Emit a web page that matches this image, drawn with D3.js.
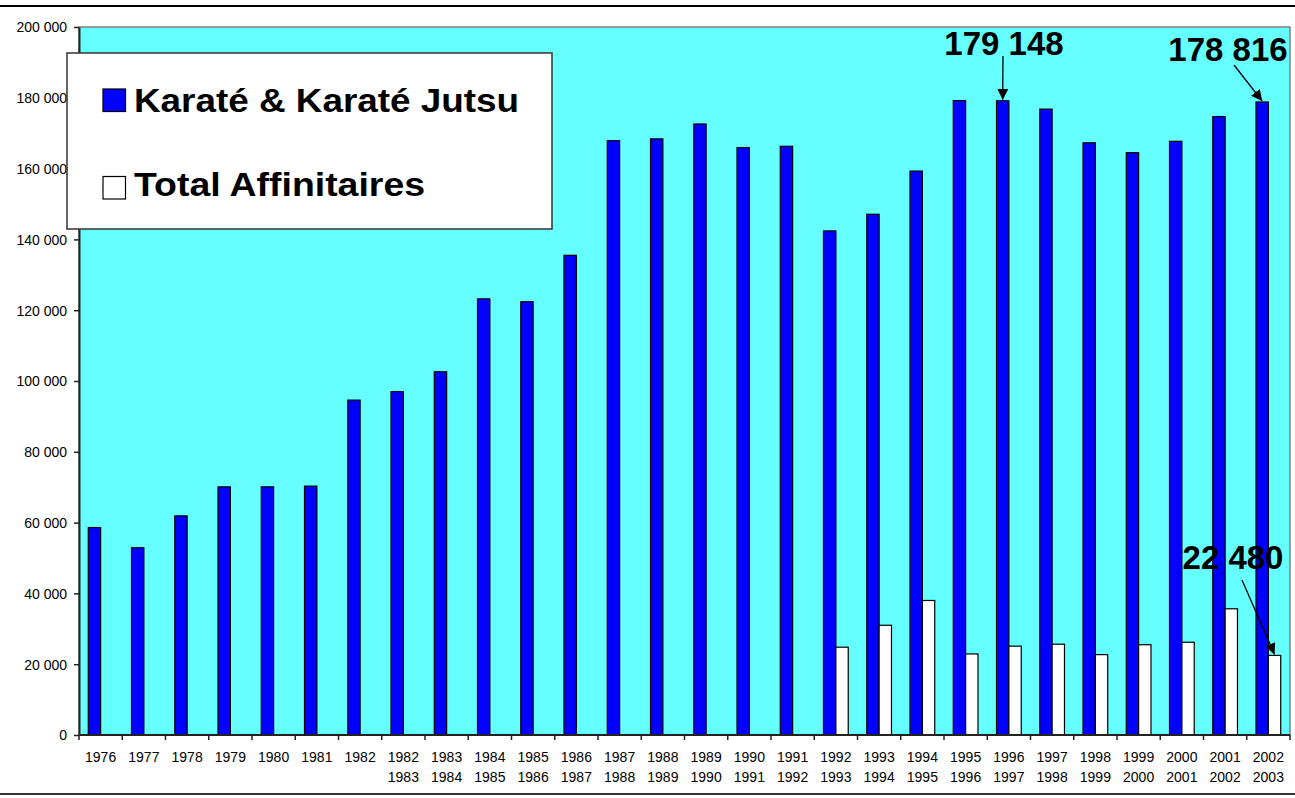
<!DOCTYPE html>
<html>
<head>
<meta charset="utf-8">
<script src="https://cdn.jsdelivr.net/npm/d3@7"></script>
<style>
    body { margin: 0; background: #ffffff; }
    svg { display: block; font-family: Arial, "Liberation Sans", sans-serif; }
</style>
</head>
<body>
<div id="byYear"><svg></svg></div>
<script>
/** Data **/
var seasonLines = [
    ["1976"], ["1977"], ["1978"], ["1979"], ["1980"], ["1981"], ["1982"],
    ["1982", "1983"], ["1983", "1984"], ["1984", "1985"], ["1985", "1986"],
    ["1986", "1987"], ["1987", "1988"], ["1988", "1989"], ["1989", "1990"],
    ["1990", "1991"], ["1991", "1992"], ["1992", "1993"], ["1993", "1994"],
    ["1994", "1995"], ["1995", "1996"], ["1996", "1997"], ["1997", "1998"],
    ["1998", "1999"], ["1999", "2000"], ["2000", "2001"], ["2001", "2002"],
    ["2002", "2003"]
];

var karateValues = [
    58600, 52900, 61900, 70100, 70100, 70300, 94600,
    97000, 102600, 123200, 122400, 135500, 167900, 168400,
    172600, 165900, 166300, 142400, 147100, 159300, 179200,
    179148, 176800, 167300, 164500, 167700, 174700, 178816
];

var affinitairesValues = [
    null, null, null, null, null, null, null,
    null, null, null, null, null, null, null,
    null, null, null, 24800, 31000, 38000, 22900,
    25100, 25650, 22700, 25500, 26200, 35650, 22480
];

var seriesNames = ["Karaté & Karaté Jutsu", "Total Affinitaires"];
var yTickValues = [0, 20000, 40000, 60000, 80000, 100000, 120000, 140000, 160000, 180000, 200000];

// Callouts: label, season index, series index
var callouts = [
    { label: "179 148", idx: 21, series: 0, tx: 1004, ty: 55, ax: 1003, ay: 56 },
    { label: "178 816", idx: 27, series: 0, tx: 1228, ty: 61, ax: 1234, ay: 65 },
    { label: "22 480",  idx: 27, series: 1, tx: 1233, ty: 569, ax: 1242, ay: 580 }
];


/**
 * Draw the whole chart.
 */
function drawChart()
{
    var width = 1295;
    var height = 798;

    var chart_Xoffset = 79;
    var chart_Yoffset = 27;
    var chart_width = 1211;
    var chart_height = 708;

    var color_plot   = '#66FFFF';
    var color_series = ['#0000FF', '#FFFFFF'];

    var svg = d3.select("#byYear").select("svg")
        .attr("width", width)
        .attr("height", height);

    var keys = seasonLines.map(function(d) { return d.join("/"); });

    var xScale = d3.scaleBand()
        .domain(keys)
        .range([chart_Xoffset, chart_Xoffset + chart_width])
        .paddingInner(0)
        .paddingOuter(0);

    // Two bars per group, Excel gap width 150%
    var xSub = d3.scaleBand()
        .domain([0, 1])
        .range([0, xScale.bandwidth()])
        .paddingInner(0)
        .paddingOuter(0.75);

    var yScale = d3.scaleLinear()
        .domain([0, 200000])
        .range([chart_Yoffset + chart_height, chart_Yoffset]);

    var spaceFmt = d3.formatLocale({ decimal: ",", thousands: " ", grouping: [3], currency: ["", ""] }).format(",d");

    // Frame lines top and bottom
    svg.append("line")
        .attr("x1", 0).attr("x2", width)
        .attr("y1", 6).attr("y2", 6)
        .attr("stroke", "#000").attr("stroke-width", 2);

    svg.append("line")
        .attr("x1", 0).attr("x2", width)
        .attr("y1", 794).attr("y2", 794)
        .attr("stroke", "#333").attr("stroke-width", 2);

    // Plot area
    svg.append("rect")
        .attr("x", chart_Xoffset)
        .attr("y", chart_Yoffset)
        .attr("width", chart_width)
        .attr("height", chart_height)
        .attr("fill", color_plot)
        .attr("stroke", "#808080")
        .attr("stroke-width", 1.5);

    // Bars
    var series = [karateValues, affinitairesValues];
    series.forEach(function(vals, s) {
        svg.append("g")
            .selectAll("rect")
            .data(vals.map(function(v, i) { return { key: keys[i], value: v }; })
                      .filter(function(d) { return d.value != null; }))
            .enter()
            .append("rect")
            .attr("x", function(d) { return xScale(d.key) + xSub(s); })
            .attr("y", function(d) { return yScale(d.value); })
            .attr("width", xSub.bandwidth())
            .attr("height", function(d) { return yScale(0) - yScale(d.value); })
            .attr("fill", color_series[s])
            .attr("stroke", "#000")
            .attr("stroke-width", 1.2);
    });

    // Y axis
    var yAxis = d3.axisLeft(yScale)
        .tickValues(yTickValues)
        .tickFormat(spaceFmt)
        .tickSize(5)
        .tickSizeOuter(0)
        .tickPadding(7);

    var gy = svg.append("g")
        .attr("transform", "translate(" + chart_Xoffset + ",0)")
        .call(yAxis);
    gy.selectAll("text").style("font-size", "14px").attr("fill", "#000").attr("dy", "0.35em");
    gy.selectAll("line").attr("stroke", "#222").attr("stroke-width", 1.5);
    gy.select(".domain").attr("stroke", "#222").attr("stroke-width", 2);

    // X axis: ticks on band boundaries
    var gx = svg.append("g");
    gx.append("line")
        .attr("x1", chart_Xoffset).attr("x2", chart_Xoffset + chart_width)
        .attr("y1", yScale(0)).attr("y2", yScale(0))
        .attr("stroke", "#222").attr("stroke-width", 2);

    var bounds = keys.map(function(k) { return xScale(k); });
    bounds.push(chart_Xoffset + chart_width);
    gx.selectAll(".xtick")
        .data(bounds)
        .enter()
        .append("line")
        .attr("x1", function(d) { return d; })
        .attr("x2", function(d) { return d; })
        .attr("y1", yScale(0))
        .attr("y2", yScale(0) + 5)
        .attr("stroke", "#222").attr("stroke-width", 1.5);

    var labels = gx.selectAll(".xlabel")
        .data(seasonLines)
        .enter()
        .append("text")
        .attr("text-anchor", "middle")
        .style("font-size", "14px")
        .attr("fill", "#000");

    labels.each(function(d, i) {
        var t = d3.select(this);
        d.forEach(function(line, j) {
            t.append("tspan")
                .attr("x", xScale(keys[i]) + xScale.bandwidth() / 2)
                .attr("y", 762 + j * 19.5)
                .text(line);
        });
    });

    // Legend (the original text is a bit stretched sideways)
    var legend = svg.append("g");
    legend.append("rect")
        .attr("x", 67).attr("y", 53)
        .attr("width", 485).attr("height", 176)
        .attr("fill", "#fff")
        .attr("stroke", "#333")
        .attr("stroke-width", 1.5);

    var legendBase = [112, 196];
    var legendLen = [385, 291];
    seriesNames.forEach(function(name, s) {
        legend.append("rect")
            .attr("x", 103).attr("y", [89, 176.5][s])
            .attr("width", 22.5).attr("height", 22.5)
            .attr("fill", color_series[s])
            .attr("stroke", "#000")
            .attr("stroke-width", 1.2);
        legend.append("text")
            .attr("x", 134).attr("y", legendBase[s])
            .style("font-size", "34px")
            .style("font-weight", "bold")
            .attr("fill", "#000")
            .attr("textLength", legendLen[s])
            .attr("lengthAdjust", "spacingAndGlyphs")
            .text(name);
    });

    // Callouts with arrows
    svg.append("defs").append("marker")
        .attr("id", "arrowHead")
        .attr("viewBox", "0 0 10 10")
        .attr("refX", 10).attr("refY", 5)
        .attr("markerWidth", 11).attr("markerHeight", 11)
        .attr("markerUnits", "userSpaceOnUse")
        .attr("orient", "auto")
        .append("path")
        .attr("d", "M0,0 L10,5 L0,10 Z")
        .attr("fill", "#000");

    callouts.forEach(function(c) {
        var vals = c.series == 0 ? karateValues : affinitairesValues;
        var bx = xScale(keys[c.idx]) + xSub(c.series) + xSub.bandwidth() / 2;
        var by = yScale(vals[c.idx]) - 1;

        svg.append("line")
            .attr("x1", c.ax).attr("y1", c.ay)
            .attr("x2", bx).attr("y2", by)
            .attr("stroke", "#000")
            .attr("stroke-width", 1.3)
            .attr("marker-end", "url(#arrowHead)");

        svg.append("text")
            .attr("x", c.tx).attr("y", c.ty)
            .attr("text-anchor", "middle")
            .style("font-size", "33px")
            .style("font-weight", "bold")
            .attr("fill", "#000")
            .text(c.label);
    });
}

drawChart();
</script>
</body>
</html>
